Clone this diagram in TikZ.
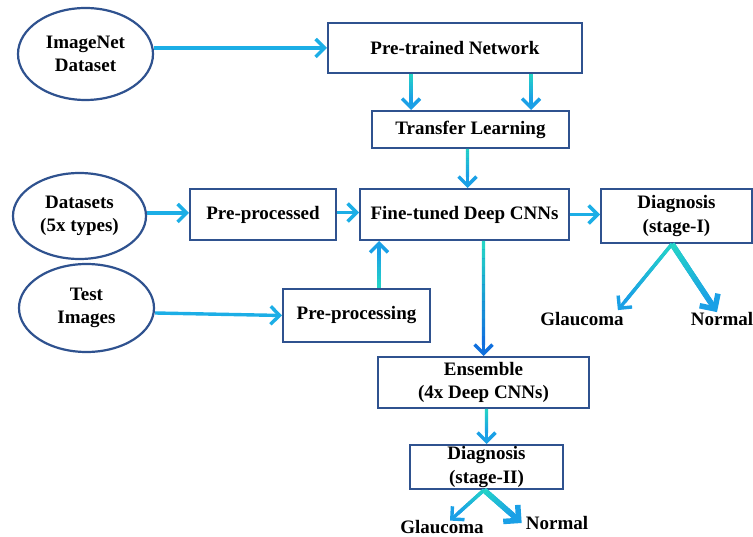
\documentclass[tikz,border=0pt]{standalone}
\usepackage{fontspec}
\setmainfont{Liberation Serif}
\usetikzlibrary{shapes.geometric,arrows.meta,calc}
\definecolor{bordc}{RGB}{47,82,143}
\definecolor{hcol}{RGB}{28,174,230}
\definecolor{tq}{RGB}{36,212,198}
\definecolor{bl}{RGB}{26,160,230}
\definecolor{dbl}{RGB}{16,112,222}
% #1 style, #2 from, #3 to, #4 start colour, #5 end colour
\newcommand\garrow[5]{%
  \draw[#1,draw=#5] (#2) -- (#3);
  \coordinate (gE) at ($(#3)!11pt!(#2)$);
  \foreach \i in {0,...,11}{%
    \pgfmathtruncatemacro\pc{100*\i/11}%
    \draw[#1,-,draw=#5!\pc!#4] ($(#2)!\i/12!(gE)$) -- ($(#2)!\i/12+1/12!(gE)$);
  }}
\begin{document}
\begin{tikzpicture}[x=1pt,y=-1pt,
  txt/.style={font=\fontsize{19}{23.5}\selectfont\bfseries},
  box/.style={txt,draw=bordc,line width=2pt,fill=white,inner sep=0pt,align=center},
  ell/.style={txt,ellipse,draw=bordc,line width=2.2pt,fill=white,inner sep=0pt,align=center},
  lab/.style={txt,inner sep=0pt},
  arr/.style={line width=3.4pt,-{Straight Barb[length=9pt,width=18pt]}},
  tarr/.style={line width=5.5pt,-{Straight Barb[length=11pt,width=22pt]}}]
\useasboundingbox (0,0) rectangle (753,537);

\node[ell,minimum width=135pt,minimum height=92pt] (imagenet) at (85.5,54) {ImageNet\\Dataset};
\node[ell,minimum width=133pt,minimum height=86pt] (datasets) at (79.5,216) {Datasets\\(5x types)};
\node[ell,minimum width=135pt,minimum height=88pt] (test) at (86.5,308) {Test\\Images};

\node[box,minimum width=254pt,minimum height=50pt] (pretrained) at (455,48) {Pre-trained Network};
\node[box,minimum width=197pt,minimum height=37pt] (transfer) at (470.5,129.5) {Transfer Learning};
\node[box,minimum width=146pt,minimum height=51pt] (preprocessed) at (263,214.5) {Pre-processed};
\node[box,minimum width=209pt,minimum height=51pt] (finetuned) at (464.5,214.5) {Fine-tuned Deep CNNs};
\node[box,minimum width=151pt,minimum height=54pt] (diag1) at (676.5,216) {Diagnosis\\(stage-I)};
\node[box,minimum width=147pt,minimum height=53pt] (preprocessing) at (356.5,315.5) {Pre-processing};
\node[box,minimum width=211pt,minimum height=51pt] (ensemble) at (483.5,382.5) {Ensemble\\(4x Deep CNNs)};
\node[box,minimum width=153pt,minimum height=44pt] (diag2) at (486.5,467) {Diagnosis\\(stage-II)};

\node[lab] (g1) at (582,319) {Glaucoma};
\node[lab] (n1) at (722,319) {Normal};
\node[lab] (g2) at (442,527.5) {Glaucoma};
\node[lab] (n2) at (557,523) {Normal};

% horizontal arrows
\coordinate (a1) at (imagenet.east |- pretrained.west);
\draw[arr,hcol] (a1) -- (pretrained.west);
\coordinate (d1) at ([yshift=3pt]datasets.east);
\coordinate (d1e) at (d1 -| preprocessed.west);
\draw[arr,hcol] (d1) -- (d1e);
\coordinate (e1) at ([yshift=2pt]preprocessed.east);
\coordinate (e1e) at (e1 -| finetuned.west);
\draw[arr,hcol] (e1) -- (e1e);
\coordinate (k1e) at (finetuned.east -| diag1.west);
\draw[arr,hcol] (finetuned.east) -- (k1e);
\coordinate (f1) at ([yshift=-5pt]test.east);
\draw[arr,hcol] (f1) -- (preprocessing.west);

% vertical arrows
\coordinate (b1) at ([xshift=-44pt]pretrained.south);
\coordinate (b1e) at (b1 |- transfer.north);
\garrow{arr}{b1}{b1e}{tq}{bl}
\coordinate (b2) at ([xshift=76pt]pretrained.south);
\coordinate (b2e) at (b2 |- transfer.north);
\garrow{arr}{b2}{b2e}{tq}{bl}
\coordinate (c1) at ([xshift=-3pt]transfer.south);
\coordinate (c1e) at (c1 |- finetuned.north);
\garrow{arr}{c1}{c1e}{tq}{bl}
\coordinate (h1) at ([xshift=22.5pt]preprocessing.north);
\coordinate (h1e) at (h1 |- finetuned.south);
\garrow{arr}{h1}{h1e}{tq}{bl}
\coordinate (m1) at (ensemble.north |- finetuned.south);
\coordinate (m1e) at (ensemble.north);
\garrow{arr}{m1}{m1e}{tq}{dbl}
\coordinate (p1) at (diag2.north |- ensemble.south);
\coordinate (p1e) at (diag2.north);
\garrow{arr}{p1}{p1e}{tq}{bl}

% splits
\coordinate (j0) at ([xshift=-4.5pt]diag1.south);
\coordinate (j1) at ([xshift=-6pt,yshift=2pt]g1.north east);
\coordinate (j2) at ([xshift=-5pt]n1.north);
\garrow{arr}{j0}{j1}{tq}{bl}
\garrow{tarr}{j0}{j2}{tq}{bl}
\coordinate (q0) at ([xshift=-2.5pt]diag2.south);
\coordinate (q1) at ([xshift=8pt,yshift=0pt]g2.north);
\coordinate (q2) at ([xshift=-4pt]n2.west);
\garrow{arr}{q0}{q1}{tq}{bl}
\garrow{tarr}{q0}{q2}{tq}{bl}
\end{tikzpicture}
\end{document}
